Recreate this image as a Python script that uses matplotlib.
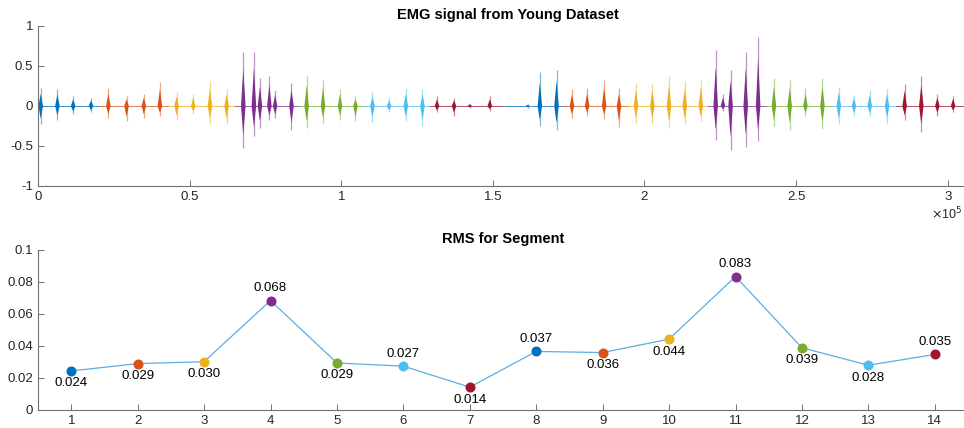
import numpy as np
import matplotlib.pyplot as plt

plt.rcParams['font.family'] = ['Liberation Sans', 'DejaVu Sans']

# MATLAB default colour order, one colour per segment (cycles after 7)
seg_colors = ['#0072BD', '#D95319', '#EDB120', '#7E2F8E', '#77AC30', '#4DBEEE', '#A2142F']

# EMG signal: bursts (x in units of 1e5 samples)
seg_edges = [0, 0.204, 0.430, 0.650, 0.860, 1.075, 1.293, 1.533, 1.734,
             1.945, 2.209, 2.400, 2.615, 2.829, 3.10]
burst_seg = [0, 0, 0, 0,
             1, 1, 1, 1,
             2, 2, 2, 2,
             3, 3, 3, 3, 3, 3,
             4, 4, 4, 4,
             5, 5, 5, 5,
             6, 6, 6, 6,
             7, 7, 7,
             8, 8, 8, 8,
             9, 9, 9, 9, 9,
             10, 10, 10, 10, 10,
             11, 11, 11, 11,
             12, 12, 12, 12,
             13, 13, 13, 13]
burst_x = [0.009, 0.064, 0.116, 0.175,
           0.232, 0.292, 0.349, 0.402,
           0.457, 0.512, 0.567, 0.622,
           0.677, 0.712, 0.732, 0.763, 0.782, 0.836,
           0.886, 0.940, 0.996, 1.047,
           1.103, 1.158, 1.213, 1.268,
           1.316, 1.372, 1.424, 1.490,
           1.615, 1.655, 1.710,
           1.761, 1.811, 1.867, 1.916,
           1.972, 2.026, 2.081, 2.133, 2.186,
           2.235, 2.259, 2.284, 2.334, 2.375,
           2.427, 2.479, 2.531, 2.587,
           2.641, 2.691, 2.743, 2.800,
           2.858, 2.913, 2.966, 3.018]
burst_top = [0.22, 0.21, 0.12, 0.10,
             0.22, 0.12, 0.15, 0.30,
             0.17, 0.15, 0.31, 0.21,
             0.67, 0.68, 0.35, 0.38, 0.20, 0.29,
             0.37, 0.33, 0.21, 0.12,
             0.17, 0.10, 0.22, 0.21,
             0.12, 0.10, 0.03, 0.12,
             0.02, 0.42, 0.45,
             0.21, 0.23, 0.33, 0.22,
             0.29, 0.28, 0.37, 0.31, 0.33,
             0.70, 0.15, 0.45, 0.67, 0.86,
             0.35, 0.32, 0.22, 0.35,
             0.24, 0.14, 0.20, 0.21,
             0.27, 0.37, 0.15, 0.13]
burst_bot = [-0.23, -0.17, -0.10, -0.08,
             -0.15, -0.19, -0.15, -0.12,
             -0.17, -0.10, -0.22, -0.23,
             -0.53, -0.38, -0.27, -0.17, -0.15, -0.30,
             -0.27, -0.21, -0.17, -0.19,
             -0.20, -0.08, -0.19, -0.25,
             -0.08, -0.12, -0.02, -0.06,
             -0.02, -0.25, -0.30,
             -0.15, -0.12, -0.16, -0.26,
             -0.21, -0.22, -0.27, -0.23, -0.19,
             -0.42, -0.06, -0.55, -0.51, -0.44,
             -0.25, -0.30, -0.12, -0.29,
             -0.22, -0.12, -0.13, -0.21,
             -0.17, -0.32, -0.12, -0.08]

# RMS per segment
segments = np.arange(1, 15)
rms = [0.0244, 0.0290, 0.0302, 0.0684, 0.0294, 0.0274, 0.0143,
       0.0366, 0.0359, 0.0443, 0.0834, 0.0389, 0.0280, 0.0347]
label_above = [False, False, False, True, False, True, False,
               True, False, False, True, False, False, True]

axis_gray = '#707070'
text_gray = '#262626'


def style_axes(ax):
    for s in ['top', 'right']:
        ax.spines[s].set_visible(False)
    for s in ['left', 'bottom']:
        ax.spines[s].set_color(axis_gray)
        ax.spines[s].set_linewidth(0.8)
    ax.tick_params(direction='in', length=4, width=0.7, color=axis_gray,
                   labelcolor=text_gray, labelsize=9.5)


fig = plt.figure(figsize=(9.64, 4.28), dpi=100)

# top: EMG signal
ax1 = fig.add_axes([38 / 964, 242 / 428, 940 / 964, 160 / 428])
for i in range(len(seg_edges) - 1):
    ax1.plot([seg_edges[i], seg_edges[i + 1]], [0, 0],
             color=seg_colors[i % 7], lw=0.7, alpha=0.75)
w = 0.0075
for s, x, t, b in zip(burst_seg, burst_x, burst_top, burst_bot):
    c = seg_colors[s % 7]
    ax1.vlines(x, b, t, color=c, lw=0.9, alpha=0.5)
    ax1.fill([x - w, x, x + w, x], [0, 0.7 * t, 0, 0.7 * b], color=c, lw=0)
ax1.set_xlim(0, 3.1)
ax1.set_ylim(-1, 1)
ax1.set_xticks([0, 0.5, 1, 1.5, 2, 2.5, 3])
ax1.set_xticklabels(['0', '0.5', '1', '1.5', '2', '2.5', '3'])
ax1.set_yticks([-1, -0.5, 0, 0.5, 1])
ax1.set_yticklabels(['-1', '-0.5', '0', '0.5', '1'])
style_axes(ax1)
ax1.set_title('EMG signal from Young Dataset', fontsize=10.5, fontweight='bold',
              color='black', pad=5)
fig.text(962 / 964, 1 - 214 / 428, r'$\times$10$^5$', fontsize=9,
         color=text_gray, va='center', ha='right')

# bottom: RMS per segment
ax2 = fig.add_axes([38 / 964, 18 / 428, 930 / 964, 160 / 428])
ax2.plot(segments, rms, color='#5DADE2', lw=0.9, zorder=1)
for i, (x, y) in enumerate(zip(segments, rms)):
    ax2.plot(x, y, 'o', ms=6.2, color=seg_colors[i % 7], zorder=2)
    dy = 9 if label_above[i] else -9
    ax2.annotate(f'{y:.3f}', (x, y), xytext=(0, dy), textcoords='offset points',
                 ha='center', va='center', fontsize=9.5, color='black')
ax2.set_xlim(0.5, 14.5)
ax2.set_ylim(0, 0.1)
ax2.set_xticks(segments)
ax2.set_yticks([0, 0.02, 0.04, 0.06, 0.08, 0.1])
ax2.set_yticklabels(['0', '0.02', '0.04', '0.06', '0.08', '0.1'])
style_axes(ax2)
ax2.set_title('RMS for Segment', fontsize=10.5, fontweight='bold', color='black', pad=5)

fig.savefig('out.png', dpi=100)
